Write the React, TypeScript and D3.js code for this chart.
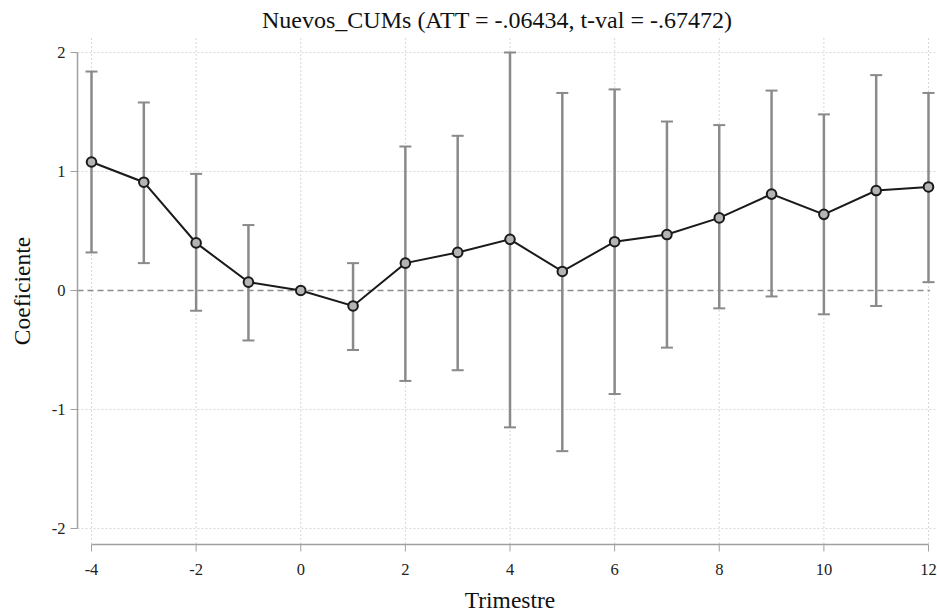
import React from "react";
import * as d3 from "d3";

const periods = [-4, -3, -2, -1, 0, 1, 2, 3, 4, 5, 6, 7, 8, 9, 10, 11, 12];
const coef = [1.08, 0.91, 0.4, 0.07, 0, -0.13, 0.23, 0.32, 0.43, 0.16, 0.41, 0.47, 0.61, 0.81, 0.64, 0.84, 0.87];
const ciHigh = [1.84, 1.58, 0.98, 0.55, 0, 0.23, 1.21, 1.3, 2.0, 1.66, 1.69, 1.42, 1.39, 1.68, 1.48, 1.81, 1.66];
const ciLow = [0.32, 0.23, -0.17, -0.42, 0, -0.5, -0.76, -0.67, -1.15, -1.35, -0.87, -0.48, -0.15, -0.05, -0.2, -0.13, 0.07];
const xTicks = [-4, -2, 0, 2, 4, 6, 8, 10, 12];
const yTicks = [-2, -1, 0, 1, 2];
const title = "Nuevos_CUMs (ATT = -.06434, t-val = -.67472)";

export default function App() {
  const W = 937, H = 615;
  const x = d3.scaleLinear().domain([-4, 12]).range([91.5, 928.5]);
  const y = d3.scaleLinear().domain([-2, 2]).range([528.5, 52.5]);
  const line = d3.line<number>().x((_, i) => x(periods[i])).y((d) => y(d));
  const font = "'Liberation Serif', 'Times New Roman', serif";
  const axisX = 77.5;
  const axisY = 544.5;
  return (
    <svg width={W} height={H} style={{ position: "absolute", left: 0, top: 0, background: "#fff" }} fontFamily={font}>
      <rect x={0} y={0} width={W} height={H} fill="#fff" />
      {/* grid */}
      {xTicks.map((t) => (
        <line key={"gx" + t} x1={x(t)} x2={x(t)} y1={38} y2={axisY} stroke="#d8d8d8" strokeWidth={1} strokeDasharray="2,2" />
      ))}
      {yTicks.filter((t) => t !== 0).map((t) => (
        <line key={"gy" + t} x1={axisX} x2={936} y1={y(t)} y2={y(t)} stroke="#d8d8d8" strokeWidth={1} strokeDasharray="2,2" />
      ))}
      {/* zero dashed line */}
      <line x1={axisX} x2={930} y1={y(0)} y2={y(0)} stroke="#8c8c8c" strokeWidth={1.3} strokeDasharray="6,4" />
      {/* axes */}
      <line x1={axisX} x2={axisX} y1={y(2)} y2={y(-2)} stroke="#a0a0a0" strokeWidth={1.5} />
      <line x1={x(-4)} x2={x(12)} y1={axisY} y2={axisY} stroke="#a0a0a0" strokeWidth={1.5} />
      {yTicks.map((t) => (
        <g key={"yt" + t}>
          <line x1={axisX - 7} x2={axisX} y1={y(t)} y2={y(t)} stroke="#a0a0a0" strokeWidth={1} />
          <text x={axisX - 12} y={y(t)} dy="0.35em" textAnchor="end" fontSize={16.5} fill="#222">
            {t}
          </text>
        </g>
      ))}
      {xTicks.map((t) => (
        <g key={"xt" + t}>
          <line x1={x(t)} x2={x(t)} y1={axisY} y2={axisY + 7} stroke="#a0a0a0" strokeWidth={1} />
          <text x={x(t)} y={axisY + 25} dy="0.35em" textAnchor="middle" fontSize={16.5} fill="#222">
            {t}
          </text>
        </g>
      ))}
      {/* error bars */}
      {periods.map((p, i) =>
        ciHigh[i] === ciLow[i] ? null : (
          <g key={"eb" + p} stroke="#8a8a8a" strokeWidth={2.5}>
            <line x1={x(p)} x2={x(p)} y1={y(ciHigh[i])} y2={y(ciLow[i])} />
            <line x1={x(p) - 6} x2={x(p) + 6} y1={y(ciHigh[i])} y2={y(ciHigh[i])} strokeWidth={2} />
            <line x1={x(p) - 6} x2={x(p) + 6} y1={y(ciLow[i])} y2={y(ciLow[i])} strokeWidth={2} />
          </g>
        )
      )}
      {/* line */}
      <path d={line(coef) || ""} fill="none" stroke="#1a1a1a" strokeWidth={2} />
      {periods.map((p, i) => (
        <circle key={"pt" + p} cx={x(p)} cy={y(coef[i])} r={4.8} fill="#b4b4b4" stroke="#1a1a1a" strokeWidth={2} />
      ))}
      {/* titles */}
      <text x={497} y={20} dy="0.35em" textAnchor="middle" fontSize={24} fill="#111">
        {title}
      </text>
      <text x={510} y={600} dy="0.35em" textAnchor="middle" fontSize={23.5} fill="#111">
        Trimestre
      </text>
      <text transform={`translate(22,291) rotate(-90)`} dy="0.35em" textAnchor="middle" fontSize={23.5} fill="#111">
        Coeficiente
      </text>
    </svg>
  );
}
